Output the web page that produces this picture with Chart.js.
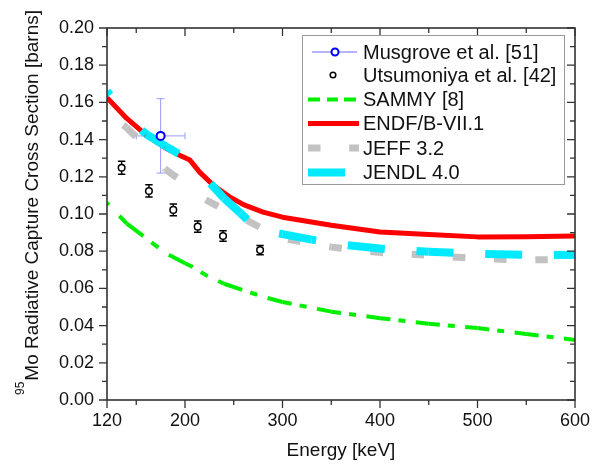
<!DOCTYPE html>
<html>
<head>
<meta charset="utf-8">
<script src="https://cdn.jsdelivr.net/npm/chart.js@4.4.1/dist/chart.umd.min.js"></script>
<style>
  body { margin: 0; background: #fff; }
  canvas { display: block; }
</style>
</head>
<body>
<canvas id="xs-chart" width="604" height="468"></canvas>
<script>
// axis ticks
const xTicks = [120, 200, 300, 400, 500, 600]
const xMinor = [150, 250, 350, 450, 550]
const yTicks = [0, 0.02, 0.04, 0.06, 0.08, 0.10, 0.12, 0.14, 0.16, 0.18, 0.20]

// Musgrove et al. [51]
const musE = [175]
const musXS = [0.142]
const musErrE = [25]
const musErrXS = [0.02]

// Utsumoniya et al. [42]
const utsE = [135, 163, 188, 213, 239, 277]
const utsXS = [0.1249, 0.1124, 0.1022, 0.0932, 0.0882, 0.0806]
const utsErr = [0.0035, 0.0033, 0.0032, 0.003, 0.0028, 0.0025]

// SAMMY [8]
const sammyE = [120, 140, 160, 180, 200, 210, 220, 240, 260, 280, 300, 350, 400, 450, 500, 550, 600]
const sammyXS = [0.106, 0.095, 0.087, 0.079, 0.0735, 0.071, 0.0675, 0.0625, 0.059, 0.0555, 0.0527, 0.0475, 0.044, 0.041, 0.0387, 0.0355, 0.0323]

// ENDF/B-VII.1
const endfE = [120, 140, 160, 180, 195, 205, 215, 230, 245, 260, 280, 300, 350, 400, 450, 500, 550, 600]
const endfXS = [0.1625, 0.1515, 0.1425, 0.1355, 0.1315, 0.129, 0.1225, 0.115, 0.1095, 0.105, 0.101, 0.0983, 0.094, 0.0903, 0.089, 0.0877, 0.0878, 0.0882]

// JEFF 3.2
const jeffE = [120, 140, 160, 180, 200, 220, 240, 260, 280, 300, 350, 400, 450, 500, 550, 600]
const jeffXS = [0.154, 0.1465, 0.136, 0.124, 0.1165, 0.108, 0.1025, 0.0975, 0.092, 0.087, 0.0822, 0.0793, 0.0778, 0.076, 0.0753, 0.0755]

// JENDL 4.0
const jendlE = [120, 140, 160, 180, 195, 210, 225, 240, 257, 275, 300, 330, 365, 400, 450, 500, 550, 600]
const jendlXS = [0.166, 0.1525, 0.143, 0.1365, 0.132, 0.1245, 0.117, 0.1085, 0.1004, 0.0914, 0.0892, 0.0862, 0.0833, 0.0814, 0.0797, 0.0786, 0.078, 0.078]

const FONT = '"Liberation Sans", Arial, sans-serif'
const TEXT = '#111'

const pts = (xs, ys) => xs.map((x, i) => ({x: x, y: ys[i]}))

// the dashes in the original repeat along x, not along the path,
// so stretch the pattern on every segment by its slope
const segStretch = c => {
  const dx = c.p1.x - c.p0.x, dy = c.p1.y - c.p0.y
  return dx > 0 ? Math.sqrt(dx * dx + dy * dy) / dx : 1
}
const xDash = (pattern, phase) => ({
  borderDash: c => pattern.map(v => v * segStretch(c)),
  borderDashOffset: c => (c.p0.x - c.chart.chartArea.left + phase) * segStretch(c)
})

const datasets = [
  {label: 'Musgrove et al. [51]', type: 'scatter', data: pts(musE, musXS), order: 0,
   pointRadius: 4, pointBorderWidth: 2, borderColor: '#0000ff', backgroundColor: '#fff',
   errColor: '#9a9aff', errW: 1},
  {label: 'Utsumoniya et al. [42]', type: 'scatter', data: pts(utsE, utsXS), order: 1,
   pointRadius: 3.3, pointBorderWidth: 1.5, borderColor: '#000', backgroundColor: '#fff',
   errColor: '#000', errW: 1.5},
  {label: 'SAMMY [8]', data: pts(sammyE, sammyXS), order: 5,
   borderColor: '#00ee00', borderWidth: 4, segment: xDash([24, 8, 7, 10.4], 37),
   legendDash: [12, 7, 11, 6]},
  {label: 'ENDF/B-VII.1', data: pts(endfE, endfXS), order: 4,
   borderColor: '#ff0000', borderWidth: 5},
  {label: 'JEFF 3.2', data: pts(jeffE, jeffXS), order: 3,
   borderColor: '#c2c2c2', borderWidth: 7, segment: xDash([12.5, 28.7], 24.9),
   legendDash: [12.5, 28.7]},
  {label: 'JENDL 4.0', data: pts(jendlE, jendlXS), order: 2,
   borderColor: '#00eaff', borderWidth: 8, segment: xDash([37, 31.7], 34),
   legendDash: [37, 31.7]}
]

const errorBars = {
  id: 'errorBars',
  beforeDatasetsDraw(chart) {
    const {ctx, scales: {x, y}} = chart
    const bars = [
      {ds: datasets[0], xs: musE, ys: musXS, ex: musErrE, ey: musErrXS, capV: 4, capH: 3.5},
      {ds: datasets[1], xs: utsE, ys: utsXS, ex: null, ey: utsErr, capV: 3.7, capH: 0}
    ]
    ctx.save()
    bars.forEach(b => {
      ctx.strokeStyle = b.ds.errColor
      ctx.lineWidth = b.ds.errW
      b.xs.forEach((e, i) => {
        const px = x.getPixelForValue(e)
        const y1 = y.getPixelForValue(b.ys[i] + b.ey[i])
        const y2 = y.getPixelForValue(b.ys[i] - b.ey[i])
        ctx.beginPath()
        ctx.moveTo(px, y1); ctx.lineTo(px, y2)
        ctx.moveTo(px - b.capV, y1); ctx.lineTo(px + b.capV, y1)
        ctx.moveTo(px - b.capV, y2); ctx.lineTo(px + b.capV, y2)
        if (b.ex) {
          const py = y.getPixelForValue(b.ys[i])
          const x1 = x.getPixelForValue(e - b.ex[i])
          const x2 = x.getPixelForValue(e + b.ex[i])
          ctx.moveTo(x1, py); ctx.lineTo(x2, py)
          ctx.moveTo(x1, py - b.capH); ctx.lineTo(x1, py + b.capH)
          ctx.moveTo(x2, py - b.capH); ctx.lineTo(x2, py + b.capH)
        }
        ctx.stroke()
      })
    })
    ctx.restore()
  }
}

const frame = {
  id: 'frame',
  afterDatasetsDraw(chart) {
    const {ctx, chartArea: a, scales: {x, y}} = chart
    ctx.save()
    ctx.strokeStyle = '#333'
    ctx.lineWidth = 1.6
    ctx.strokeRect(a.left, a.top, a.right - a.left, a.bottom - a.top)
    ctx.lineWidth = 1.3
    ctx.beginPath()
    const xt = (v, len) => {
      const p = x.getPixelForValue(v)
      ctx.moveTo(p, a.bottom); ctx.lineTo(p, a.bottom + len)
      ctx.moveTo(p, a.top); ctx.lineTo(p, a.top + len)
    }
    const yt = (v, len) => {
      const p = y.getPixelForValue(v)
      ctx.moveTo(a.left, p); ctx.lineTo(a.left - len, p)
      ctx.moveTo(a.right, p); ctx.lineTo(a.right - len, p)
    }
    xTicks.forEach(v => xt(v, 8))
    xMinor.forEach(v => xt(v, 5))
    yTicks.forEach((v, i) => {
      yt(v, 8)
      if (i > 0) yt((v + yTicks[i - 1]) / 2, 5)
    })
    ctx.stroke()

    // y axis title with superscript
    ctx.fillStyle = TEXT
    ctx.translate(38, 395)
    ctx.rotate(-Math.PI / 2)
    ctx.textBaseline = 'alphabetic'
    ctx.textAlign = 'left'
    ctx.font = '12px ' + FONT
    ctx.fillText('95', 0, -14)
    const w = ctx.measureText('95').width
    ctx.font = '19px ' + FONT
    ctx.fillText('Mo Radiative Capture Cross Section [barns]', w + 1, 0)
    ctx.restore()

    // legend
    ctx.save()
    ctx.fillStyle = '#fff'
    ctx.fillRect(302, 35, 262, 149)
    ctx.strokeStyle = '#999'
    ctx.lineWidth = 1
    ctx.strokeRect(302.5, 35.5, 262, 149)
    const rows = [52, 75, 99.5, 123.5, 148, 172.5]
    datasets.forEach((ds, i) => {
      const ry = rows[i]
      ctx.save()
      if (ds.type === 'scatter') {
        if (i === 0) {
          ctx.strokeStyle = '#6a6aff'; ctx.lineWidth = 1
          ctx.beginPath(); ctx.moveTo(312, ry); ctx.lineTo(357, ry); ctx.stroke()
        }
        ctx.beginPath()
        ctx.arc(i === 0 ? 335 : 333, ry, ds.pointRadius - 0.5, 0, Math.PI * 2)
        ctx.fillStyle = '#fff'; ctx.fill()
        ctx.strokeStyle = ds.borderColor; ctx.lineWidth = ds.pointBorderWidth
        ctx.stroke()
      } else {
        ctx.strokeStyle = ds.borderColor
        ctx.lineWidth = ds.borderWidth
        ctx.setLineDash(ds.legendDash || [])
        ctx.beginPath(); ctx.moveTo(308, ry); ctx.lineTo(359, ry); ctx.stroke()
      }
      ctx.restore()
      ctx.fillStyle = TEXT
      ctx.font = '20px ' + FONT
      ctx.textBaseline = 'middle'
      ctx.fillText(ds.label, 363, ry + 1)
    })
    ctx.restore()
  }
}

const tickFont = {family: FONT, size: 18}

new Chart(document.getElementById('xs-chart'), {
  type: 'line',
  data: {datasets: datasets.map(d => Object.assign({fill: false, pointRadius: 0, tension: 0, borderCapStyle: 'butt', borderJoinStyle: 'round'}, d))},
  options: {
    responsive: false,
    animation: false,
    devicePixelRatio: 1,
    layout: {padding: {top: 28, right: 29, left: 0, bottom: 0}},
    plugins: {legend: {display: false}, tooltip: {enabled: false}},
    scales: {
      x: {
        type: 'linear', min: 120, max: 600,
        afterBuildTicks: s => { s.ticks = xTicks.map(v => ({value: v})) },
        afterFit: s => { s.height = 68 },
        grid: {display: false, drawTicks: false},
        border: {display: false},
        ticks: {font: tickFont, color: TEXT, padding: 10, maxRotation: 0, autoSkip: false},
        title: {display: true, text: 'Energy [keV]', color: TEXT, font: {family: FONT, size: 19}, padding: {top: 0, bottom: 6}}
      },
      y: {
        type: 'linear', min: 0, max: 0.2,
        afterBuildTicks: s => { s.ticks = yTicks.map(v => ({value: v})) },
        afterFit: s => { s.width = 107 },
        grid: {display: false, drawTicks: false},
        border: {display: false},
        ticks: {font: tickFont, color: TEXT, padding: 13, callback: v => v.toFixed(2)}
      }
    }
  },
  plugins: [errorBars, frame]
})
</script>
</body>
</html>
